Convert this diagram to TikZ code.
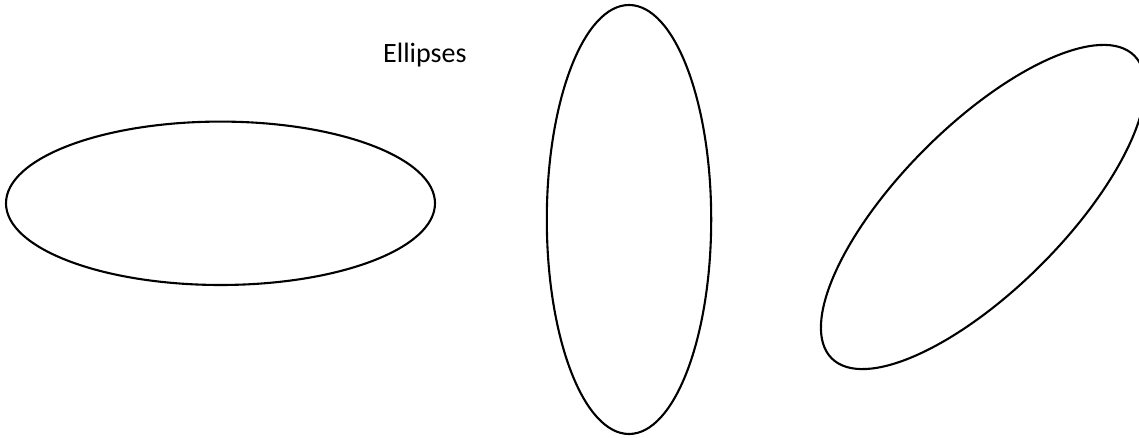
\documentclass[tikz,border=0pt]{standalone}
\usepackage{fontspec}
\setmainfont{Carlito}
\begin{document}
\begin{tikzpicture}[x=1pt,y=1pt,
  ell/.style={draw=black,line width=2.1pt},
  lbl/.style={inner sep=0pt,anchor=base west,font=\fontsize{28}{34}\selectfont}]
\useasboundingbox (0,0) rectangle (1139,438);
\draw[ell] (220.5,234.7) ellipse [x radius=214.5pt, y radius=81.7pt];
\draw[ell] (629,218.5) ellipse [x radius=82.2pt, y radius=214.5pt];
\draw[ell] (983,231) ellipse [x radius=214pt, y radius=82pt, rotate=45];
\node[lbl] (title) at (383,375) {Ellipses};
\end{tikzpicture}
\end{document}
